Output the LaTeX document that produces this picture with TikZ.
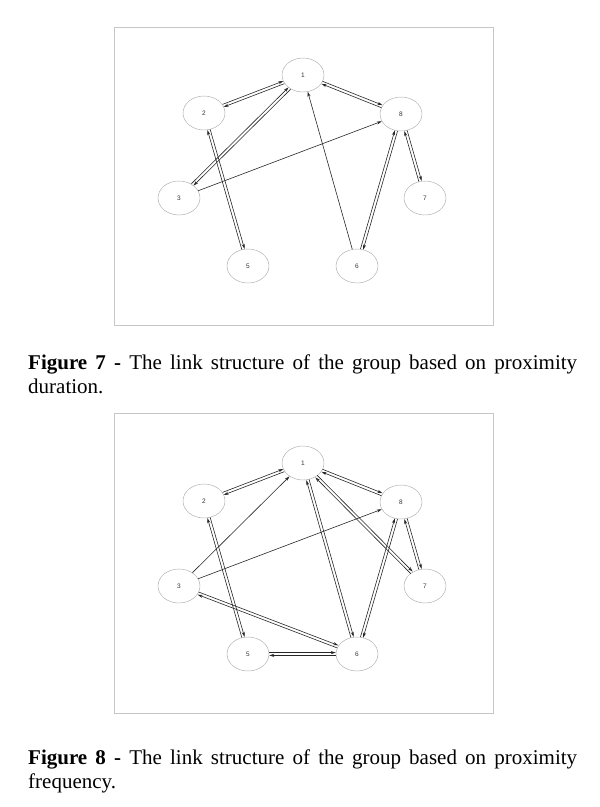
\documentclass[tikz,border=0pt]{standalone}
\usepackage{fontspec}
\setmainfont{Liberation Serif}
\setsansfont{Liberation Sans}
\usetikzlibrary{shapes.geometric,arrows.meta,calc}

\newcommand{\nohyph}{\hyphenpenalty=10000\relax\exhyphenpenalty=10000\relax}

\tikzset{
  member/.style={ellipse, draw=gray!65, line width=0.45pt, minimum width=42pt,
    minimum height=34pt, inner sep=0pt, text=black!80,
    font=\sffamily\fontsize{6.5}{7}\selectfont},
  link/.style={draw=black!85, line width=0.6pt, -{Stealth[length=5pt,width=3pt]}},
  frame/.style={draw=gray!45, line width=0.7pt},
  caption/.style={anchor=base west, inner sep=0pt, text width=549pt, align=justify,
    font={\fontsize{21}{24}\selectfont\nohyph}}
}

\newcommand{\twoway}[2]{%
  \path let \p1=($(#2.center)-(#1.center)$), \n1={atan2(\y1,\x1)} in
    \pgfextra{\xdef\linkangle{\n1}};
  \draw[link, transform canvas={shift={(\linkangle+90:1.4pt)}}] (#1) -- (#2);
  \draw[link, transform canvas={shift={(\linkangle-90:1.4pt)}}] (#2) -- (#1);
}

\begin{document}
\begin{tikzpicture}[x=1pt, y=1pt]
    \useasboundingbox (0,0) rectangle (600,-807);

    \draw[frame] (114,-27) rectangle (493,-325);
    \node[member] (d1) at (303,-75) {1};
    \node[member] (d2) at (204,-113) {2};
    \node[member] (d8) at (401,-114) {8};
    \node[member] (d3) at (179,-198) {3};
    \node[member] (d7) at (425,-198) {7};
    \node[member] (d5) at (248,-266) {5};
    \node[member] (d6) at (357,-266) {6};
    \twoway{d2}{d1}
    \twoway{d3}{d1}
    \twoway{d1}{d8}
    \twoway{d2}{d5}
    \twoway{d8}{d6}
    \twoway{d8}{d7}
    \draw[link] (d3) -- (d8);
    \draw[link] (d6) -- (d1);
    \node[caption] (cap7) at (28,-369)
      {\textbf{Figure 7 -} The link structure of the group based on proximity duration.};

    \draw[frame] (114,-413) rectangle (493,-713);
    \node[member] (f1) at (303,-463) {1};
    \node[member] (f2) at (204,-501) {2};
    \node[member] (f8) at (401,-502) {8};
    \node[member] (f3) at (179,-586) {3};
    \node[member] (f7) at (425,-586) {7};
    \node[member] (f5) at (248,-654) {5};
    \node[member] (f6) at (357,-654) {6};
    \twoway{f2}{f1}
    \twoway{f1}{f8}
    \twoway{f1}{f7}
    \twoway{f1}{f6}
    \twoway{f8}{f6}
    \twoway{f8}{f7}
    \twoway{f2}{f5}
    \twoway{f3}{f6}
    \twoway{f5}{f6}
    \draw[link] (f3) -- (f1);
    \draw[link] (f3) -- (f8);
    \node[caption] (cap8) at (28,-764)
      {\textbf{Figure 8 -} The link structure of the group based on proximity frequency.};
\end{tikzpicture}
\end{document}
